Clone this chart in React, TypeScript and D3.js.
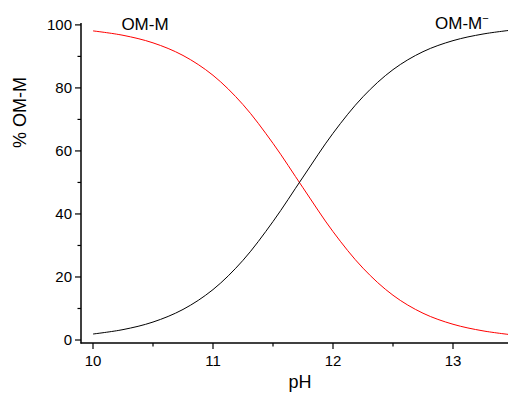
import React from "react";
import * as d3 from "d3";

const pH = [10, 10.25, 10.5, 10.75, 11, 11.25, 11.5, 11.75, 12, 12.25, 12.5, 12.75, 13, 13.25, 13.5];
const omMminus = [1.9, 3.3, 5.7, 9.7, 16.0, 25.3, 37.6, 51.7, 65.6, 77.2, 85.8, 91.5, 95.0, 97.1, 98.4];
const omM = [98.1, 96.7, 94.3, 90.3, 84.0, 74.7, 62.4, 48.3, 34.4, 22.8, 14.2, 8.5, 5.0, 2.9, 1.6];
const xTicks = [10, 11, 12, 13];
const xMinor = [10.5, 11.5, 12.5, 13.5];
const yTicks = [0, 20, 40, 60, 80, 100];
const yMinor = [10, 30, 50, 70, 90];

export default function App() {
  const W = 508, H = 398;
  const x = d3.scaleLinear().domain([9.9, 13.5]).range([81, 513]);
  const y = d3.scaleLinear().domain([-0.95, 100.6]).range([343, 23]);
  const line = (vals: number[]) =>
    d3.line<number>().x((_, i) => x(pH[i])).y((d) => y(d)).curve(d3.curveCatmullRom)(vals) || "";
  const font = "Arial, 'Liberation Sans', sans-serif";
  return (
    <svg width={W} height={H} style={{ position: "absolute", left: 0, top: 0, background: "#fff" }} fontFamily={font}>
      <rect width={W} height={H} fill="#fff" />
      <path d={line(omM)} fill="none" stroke="#ff0000" strokeWidth={1} />
      <path d={line(omMminus)} fill="none" stroke="#000" strokeWidth={1} />
      {/* axes */}
      <line x1={81} x2={81} y1={y(100.6)} y2={343.5} stroke="#000" strokeWidth={1.5} />
      <line x1={80.5} x2={W} y1={343} y2={343} stroke="#000" strokeWidth={1.5} />
      {yTicks.map((t) => (
        <g key={t}>
          <line x1={75} x2={81} y1={y(t)} y2={y(t)} stroke="#000" strokeWidth={1.2} />
          <text x={72} y={y(t)} dy="0.35em" textAnchor="end" fontSize={15}>{t}</text>
        </g>
      ))}
      {yMinor.map((t) => (
        <line key={t} x1={77.5} x2={81} y1={y(t)} y2={y(t)} stroke="#000" strokeWidth={1.2} />
      ))}
      {xTicks.map((t) => (
        <g key={t}>
          <line x1={x(t)} x2={x(t)} y1={343} y2={349} stroke="#000" strokeWidth={1.2} />
          <text x={x(t)} y={366} textAnchor="middle" fontSize={15}>{t}</text>
        </g>
      ))}
      {xMinor.map((t) => (
        <line key={t} x1={x(t)} x2={x(t)} y1={343} y2={346.5} stroke="#000" strokeWidth={1.2} />
      ))}
      <text x={300} y={388} textAnchor="middle" fontSize={18}>pH</text>
      <text transform={`translate(26,${y(50) - 70}) rotate(-90)`} textAnchor="middle" fontSize={18}>% OM-M</text>
      <text x={145} y={29.5} textAnchor="middle" fontSize={17}>OM-M</text>
      <text x={435} y={28.5} textAnchor="start" fontSize={17}>
        OM-M<tspan dy={-7} fontSize={11}>−</tspan>
      </text>
    </svg>
  );
}
